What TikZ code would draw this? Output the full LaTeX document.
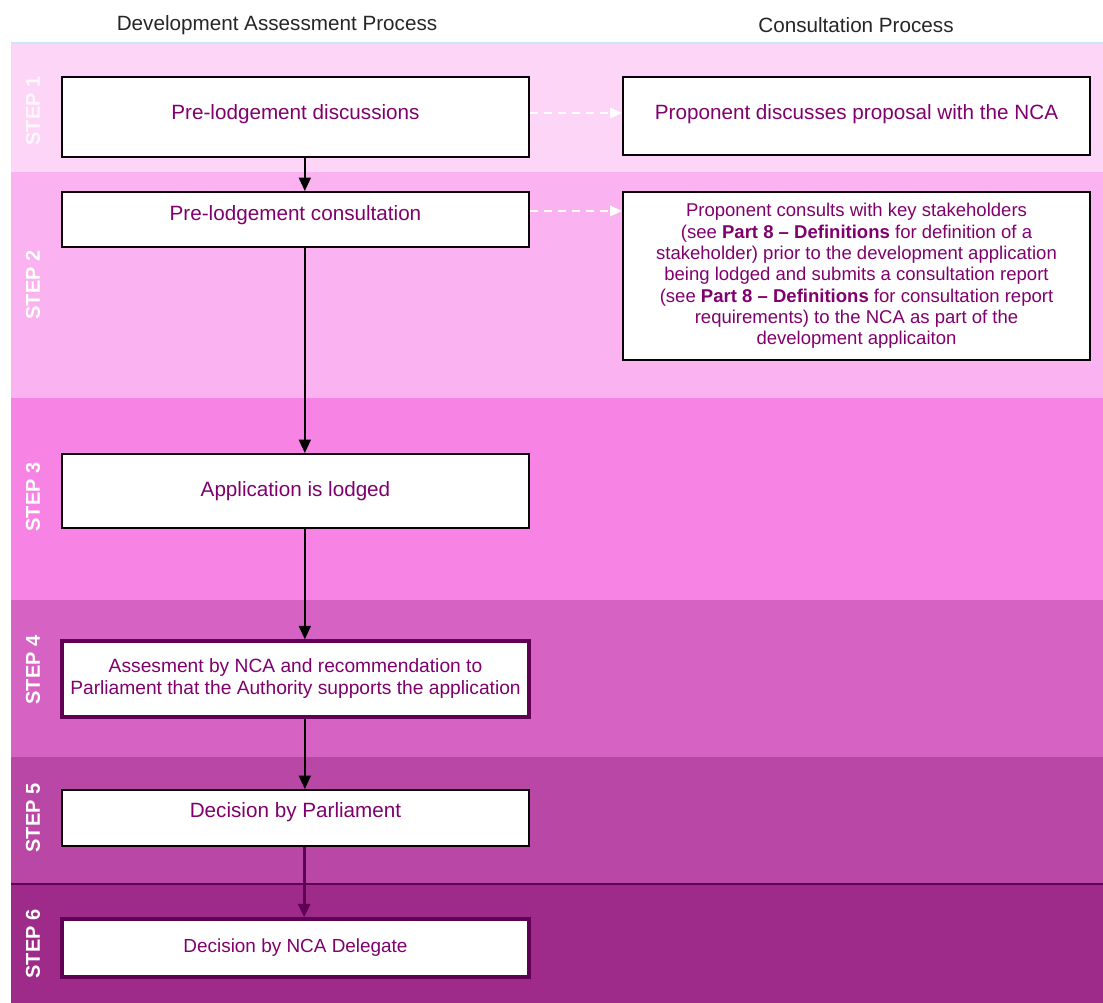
\documentclass[tikz,border=0pt]{standalone}
\usepackage{fontspec}
\setmainfont{Liberation Sans}
\usetikzlibrary{arrows.meta}

\definecolor{stepone}{RGB}{253,213,246}
\definecolor{steptwo}{RGB}{251,178,240}
\definecolor{stepthree}{RGB}{247,132,229}
\definecolor{stepfour}{RGB}{214,99,196}
\definecolor{stepfive}{RGB}{185,71,166}
\definecolor{stepsix}{RGB}{158,42,138}
\definecolor{txtpurple}{RGB}{128,0,110}
\definecolor{edgepurple}{RGB}{95,0,85}
\definecolor{topline}{RGB}{200,232,250}

\tikzset{every picture/.style={line width=0.75pt}}

\begin{document}
\begin{tikzpicture}[x=0.75pt,y=0.75pt,yscale=-1,xscale=1,
  procbox/.style={draw=black!90!edgepurple, line width=1.5pt, fill=white, text=txtpurple,
    minimum width=350.25pt, inner sep=0pt, align=center, font=\fontsize{15.5}{18}\selectfont},
  heavybox/.style={procbox, draw=edgepurple, line width=2.6pt},
  lift/.style={text height=11pt, text depth=#1},
  steplabel/.style={rotate=90, text=white, font=\fontsize{15}{18}\selectfont\bfseries},
  header/.style={text=black!85, font=\fontsize{15.5}{18}\selectfont},
  flow/.style={-{Triangle[length=10pt,width=9pt]}, line width=1.1pt},
  tonca/.style={-{Triangle[length=9pt,width=8pt]}, white, line width=1.1pt, dash pattern={on 6pt off 4.5pt}}]
%uncomment if require: \path (0,1003); %set diagram left start at 0, and has height of 1003
\useasboundingbox (0,0) rectangle (1103,1003);

%Shape: Rectangle [step bands]
\fill[stepone] (11,44) rectangle (1103,172);
\fill[steptwo] (11,172) rectangle (1103,398);
\fill[stepthree] (11,398) rectangle (1103,600);
\fill[stepfour] (11,600) rectangle (1103,757);
\fill[stepfive] (11,757) rectangle (1103,884);
\fill[stepsix] (11,884) rectangle (1103,1003);
%Straight Lines [band edges]
\draw[topline, line width=1.5pt] (11,43) -- (1103,43);
\draw[edgepurple, line width=1pt] (11,884) -- (1103,884);

% Text Node
\node[header] (devhead) at (277,25) {Development Assessment Process};
\node[header] (conhead) at (856,25) {Consultation Process};

% Text Node
\node[steplabel, text opacity=0.8] (s1) at (33,111) {STEP 1};
\node[steplabel] (s2) at (33,285) {STEP 2};
\node[steplabel] (s3) at (33,497) {STEP 3};
\node[steplabel] (s4) at (33,670) {STEP 4};
\node[steplabel] (s5) at (33,818) {STEP 5};
\node[steplabel] (s6) at (33,944) {STEP 6};

%Shape: Rectangle [development column]
\node[procbox, minimum height=60pt, lift=7.4pt] (pre) at (295.5,117) {Pre-lodgement discussions};
\node[procbox, minimum height=41.25pt, lift=9.7pt] (precons) at (295.5,219.5) {Pre-lodgement consultation};
\node[procbox, minimum height=55.5pt] (lodged) at (295.5,491) {Application is lodged};
\node[heavybox, minimum height=57pt, font=\fontsize{14.4}{16.5}\selectfont] (assess) at (295.5,679)
  {Assesment by NCA and recommendation to\\Parliament that the Authority supports the application};
\node[procbox, minimum height=42pt, lift=11.9pt] (parl) at (295.5,818) {Decision by Parliament};
\node[heavybox, minimum height=43.5pt, font=\fontsize{14.2}{17}\selectfont] (deleg) at (295.5,948) {Decision by NCA Delegate};

%Shape: Rectangle [consultation column]
\node[procbox, minimum height=58.5pt, lift=5.9pt] (discuss) at (856.5,116) {Proponent discusses proposal with the NCA};
\node[procbox, minimum height=126pt, font=\fontsize{13.9}{16}\selectfont] (consult) at (856.5,276)
  {Proponent consults with key stakeholders\\
   (see \textbf{Part 8 – Definitions} for definition of a\\
   stakeholder) prior to the development application\\
   being lodged and submits a consultation report\\
   (see \textbf{Part 8 – Definitions} for consultation report\\
   requirements) to the NCA as part of the\\
   development applicaiton};

%Straight Lines [flow]
\draw[flow] ([xshift=7pt]pre.south) -- ([xshift=7pt]precons.north);
\draw[flow] ([xshift=7pt]precons.south) -- ([xshift=7pt]lodged.north);
\draw[flow] ([xshift=7pt]lodged.south) -- ([xshift=7pt]assess.north);
\draw[flow] ([xshift=7pt]assess.south) -- ([xshift=7pt]parl.north);
\draw[flow, edgepurple, line width=2.2pt] ([xshift=6.5pt]parl.south) -- ([xshift=6.5pt]deleg.north);

%Straight Lines [to consultation]
\draw[tonca] ([yshift=-3pt]pre.east) -- ([yshift=-3pt]pre.east -| discuss.west);
\draw[tonca] ([yshift=-6.4pt]precons.east) -- ([yshift=-6.4pt]precons.east -| consult.west);

\end{tikzpicture}
\end{document}
